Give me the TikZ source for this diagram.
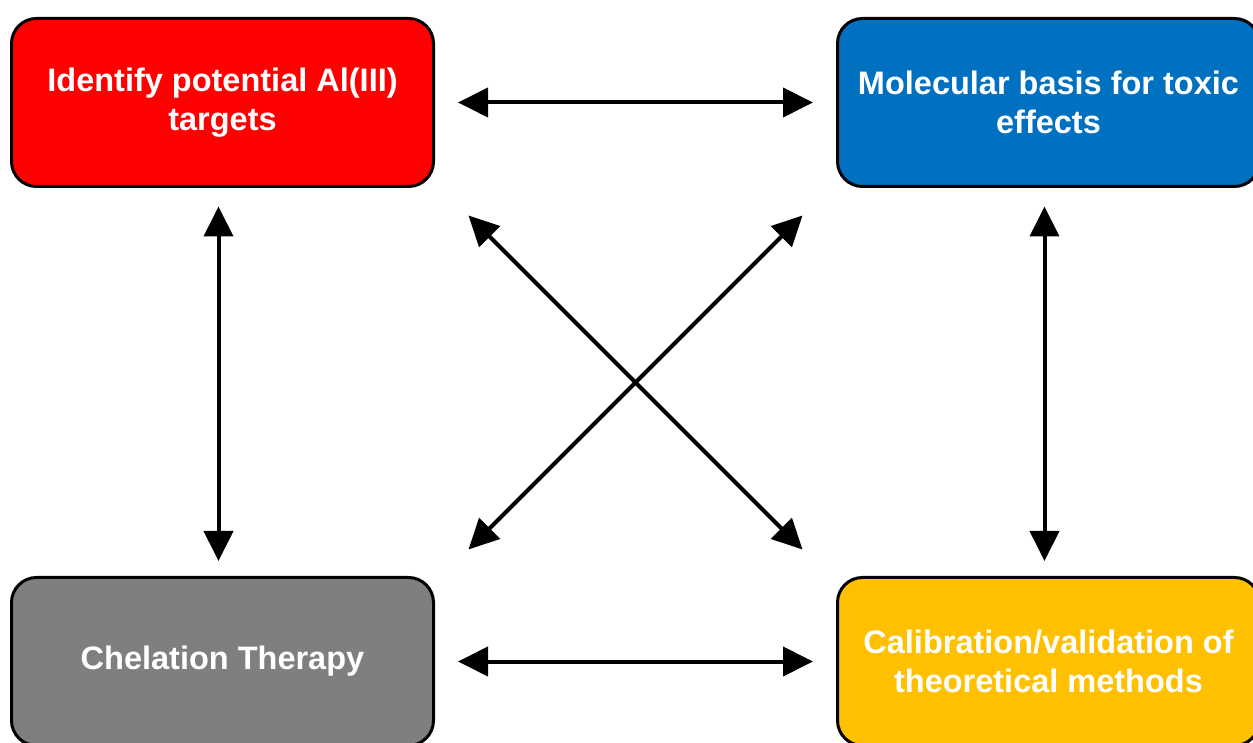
\documentclass[tikz,border=0pt]{standalone}
\usepackage{fontspec}
\setmainfont{Liberation Sans}
\usetikzlibrary{arrows.meta}
\definecolor{boxred}{HTML}{FF0000}
\definecolor{boxblue}{HTML}{0070C0}
\definecolor{boxgray}{HTML}{7F7F7F}
\definecolor{boxgold}{HTML}{FFC000}
\tikzset{
  topic/.style={draw=black,line width=3pt,rounded corners=25pt,
    minimum width=422pt,minimum height=168pt,inner sep=0pt,align=center,
    text=white,font=\fontsize{32.5}{39}\selectfont\bfseries},
  link/.style={line width=4pt,
    {Triangle[length=30pt,width=29pt]}-{Triangle[length=30pt,width=29pt]}}
}
\begin{document}
\begin{tikzpicture}[x=1pt,y=1pt]
      \useasboundingbox(0,0)rectangle(1253,742);
      \clip(0,0)rectangle(1253,742);
      % the four topics
      \node[topic,fill=boxred] (TL) at (222.5,639.5) {Identify potential Al(III)\\targets};
      \node[topic,fill=boxblue](TR) at (1048.5,639.5){Molecular basis for toxic\\effects};
      \node[topic,fill=boxgray](BL) at (222.5,80.5)  {Chelation Therapy};
      \node[topic,fill=boxgold](BR) at (1048.5,80.5) {Calibration/validation of\\theoretical methods};
      % links
      \foreach \a/\b in{TL/TR, BL/BR}{
        \draw[link,shorten <=23pt,shorten >=23pt](\a.east)--(\b.west);
      }
      \foreach \a/\b in{TL/BL, TR/BR}{
        \draw[link,shorten <=18.5pt,shorten >=15pt]([xshift=-4pt]\a.south)--([xshift=-4pt]\b.north);
      }
      \draw[link]([shift={(33.5,-27.5)}]TL.south east)--([shift={(-33.5,26.5)}]BR.north west);
      \draw[link]([shift={(-33.5,-27.5)}]TR.south west)--([shift={(33.5,26.5)}]BL.north east);
    \end{tikzpicture}
\end{document}
